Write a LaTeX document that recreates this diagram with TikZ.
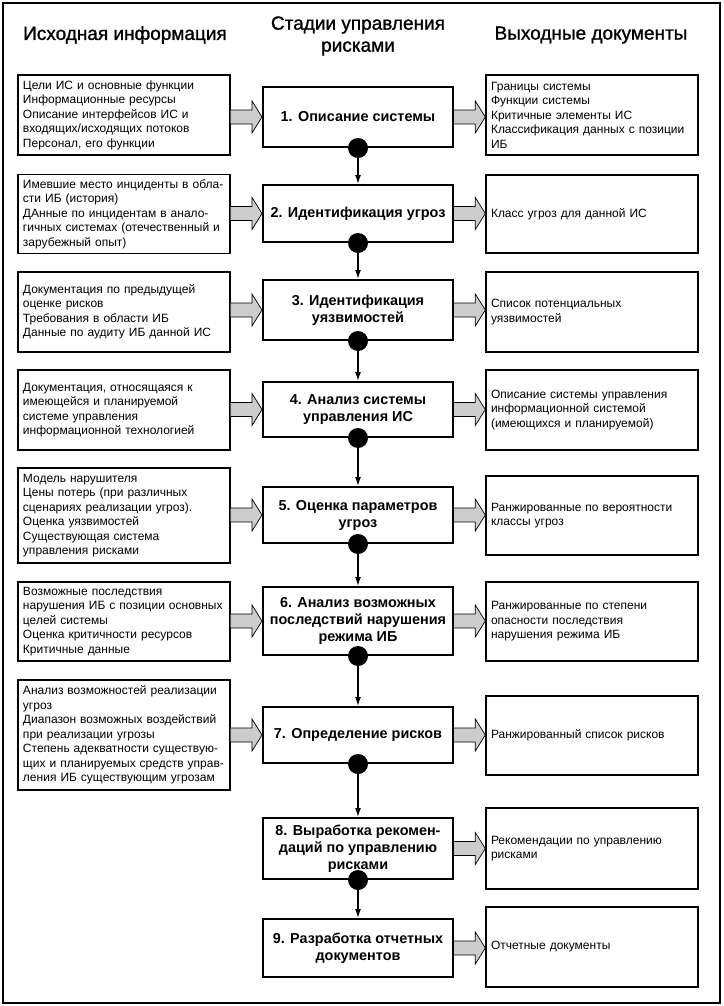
\documentclass[tikz,border=0pt]{standalone}
\usepackage{fontspec}
\setmainfont{Liberation Sans}
\newfontfamily\headfont[FakeBold=1.2]{Liberation Sans}
\usepackage{tikz}
\usetikzlibrary{arrows.meta,calc}

\newcommand{\fatarrow}[2]{%
  \filldraw[fat] ($(#1)+(0,-7)$) -- ($(#2)+(-10,-7)$) -- ($(#2)+(-10,-16)$) -- (#2)
    -- ($(#2)+(-10,16)$) -- ($(#2)+(-10,7)$) -- ($(#1)+(0,7)$);}

\begin{document}
\begin{tikzpicture}[x=1pt, y=-1pt,
    head/.style = {align=center, font=\headfont\fontsize{19}{22}\selectfont},
    inbox/.style = {draw, line width=1.4pt, text width=202pt, inner sep=5pt, align=left, font=\fontsize{12}{14.5}\selectfont},
    outbox/.style = {inbox},
    stage/.style = {draw, line width=2pt, minimum width=190pt, inner sep=2pt, align=center, font=\fontsize{14.4}{17}\selectfont\bfseries},
    dot/.style = {circle, fill=black, minimum size=20pt, inner sep=0pt},
    flow/.style = {-{Latex[length=9pt,width=6pt]}, line width=1.4pt},
    fat/.style = {fill=gray!40, draw=black, line width=0.7pt}]
            \useasboundingbox (0,0) rectangle (723,1006);
            \draw[line width=2pt] (3,3) rectangle (720,1003);

            \node[head] (Hin) at (125,35) {Исходная информация};
            \node[head] (Hst) at (358,36) {Стадии управления\\рисками};
            \node[head] (Hout) at (591,35) {Выходные документы};

            \node[inbox, minimum height=80pt] (L1) at (124,115) {Цели ИС и основные функции\\Информационные ресурсы\\Описание интерфейсов ИС и\\входящих/исходящих потоков\\Персонал, его функции};
            \node[inbox, minimum height=78pt] (L2) at (124,214) {Имевшие место инциденты в обла-\\сти ИБ (история)\\ДАнные по инцидентам в анало-\\гичных системах (отечественный и\\зарубежный опыт)};
            \node[inbox, minimum height=80pt] (L3) at (124,312) {Документация по предыдущей\\оценке рисков\\Требования в области ИБ\\Данные по аудиту ИБ данной ИС};
            \node[inbox, minimum height=80pt] (L4) at (124,410) {Документация, относящаяся к\\имеющейся и планируемой\\системе управления\\информационной технологией};
            \node[inbox, minimum height=95pt] (L5) at (124,515.5) {Модель нарушителя\\Цены потерь (при различных\\сценариях реализации угроз).\\Оценка уязвимостей\\Существующая система\\управления рисками};
            \node[inbox, minimum height=79pt] (L6) at (124,621.5) {Возможные последствия\\нарушения ИБ с позиции основных\\целей системы\\Оценка критичности ресурсов\\Критичные данные};
            \node[inbox, minimum height=110pt] (L7) at (124,735) {Анализ возможностей реализации\\угроз\\Диапазон возможных воздействий\\при реализации угрозы\\Степень адекватности существую-\\щих и планируемых средств управ-\\ления ИБ существующим угрозам};

            \node[stage, minimum height=60pt] (M1) at (358,117) {1. Описание системы};
            \node[stage, minimum height=57pt] (M2) at (358,213.5) {2. Идентификация угроз};
            \node[stage, minimum height=60pt] (M3) at (358,310) {3. Идентификация\\уязвимостей};
            \node[stage, minimum height=55pt] (M4) at (358,409.5) {4. Анализ системы\\управления ИС};
            \node[stage, minimum height=56pt] (M5) at (358,515) {5. Оценка параметров\\угроз};
            \node[stage, minimum height=68pt] (M6) at (358,621) {6. Анализ возможных\\последствий нарушения\\режима ИБ};
            \node[stage, minimum height=56pt] (M7) at (358,735) {7. Определение рисков};
            \node[stage, minimum height=61pt] (M8) at (358,848.5) {8. Выработка рекомен-\\даций по управлению\\рисками};
            \node[stage, minimum height=58pt] (M9) at (358,948) {9. Разработка отчетных\\документов};

            \node[outbox, minimum height=80pt] (R1) at (592,115) {Границы системы\\Функции системы\\Критичные элементы ИС\\Классификация данных с позиции\\ИБ};
            \node[outbox, minimum height=78pt] (R2) at (592,214) {Класс угроз для данной ИС};
            \node[outbox, minimum height=80pt] (R3) at (592,312) {Список потенциальных\\уязвимостей};
            \node[outbox, minimum height=80pt] (R4) at (592,410) {Описание системы управления\\информационной системой\\(имеющихся и планируемой)};
            \node[outbox, minimum height=79pt] (R5) at (592,515.5) {Ранжированные по вероятности\\классы угроз};
            \node[outbox, minimum height=79pt] (R6) at (592,621.5) {Ранжированные по степени\\опасности последствия\\нарушения режима ИБ};
            \node[outbox, minimum height=79pt] (R7) at (592,735.5) {Ранжированный список рисков};
            \node[outbox, minimum height=81pt] (R8) at (592,848.5) {Рекомендации по управлению\\рисками};
            \node[outbox, minimum height=80pt] (R9) at (592,947) {Отчетные документы};

            \foreach \i in {1,...,7} {
                \fatarrow{L\i.east|-M\i.west}{M\i.west}
            }
            \foreach \i in {1,...,9} {
                \fatarrow{M\i.east}{R\i.west|-M\i.east}
            }

            \foreach \i in {1,...,8} {
                \node[dot] (D\i) at (M\i.south) {};
            }
            \path[flow] (D1) edge (M2);
            \path[flow] (D2) edge (M3);
            \path[flow] (D3) edge (M4);
            \path[flow] (D4) edge (M5);
            \path[flow] (D5) edge (M6);
            \path[flow] (D6) edge (M7);
            \path[flow] (D7) edge (M8);
            \path[flow] (D8) edge (M9);
        \end{tikzpicture}
\end{document}
